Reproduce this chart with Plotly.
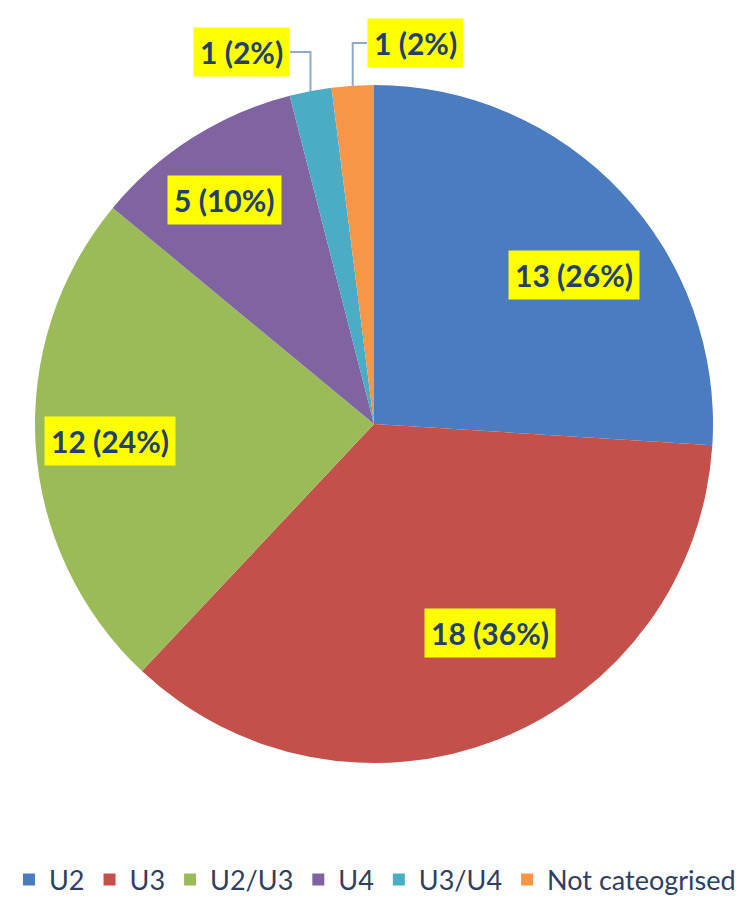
import math
import plotly.graph_objects as go

categories = ["U2", "U3", "U2/U3", "U4", "U3/U4", "Not cateogrised"]
counts = [13, 18, 12, 5, 1, 1]
colors = ["#4A7CBF", "#C4504C", "#9BBB59", "#8064A2", "#4BACC6", "#F79646"]

W, H = 750, 908
# pie geometry (pixels)
CX, CY, R = 374, 424, 339
FONT = "Lato, Carlito, sans-serif"
TXT = "#22406A"

fig = go.Figure(go.Pie(
    labels=categories, values=counts, sort=False, direction="clockwise",
    rotation=0, marker=dict(colors=colors, line=dict(width=0)),
    textinfo="none", hoverinfo="label+value+percent",
    domain=dict(x=[(CX - R) / W, (CX + R) / W],
                y=[1 - (CY + R) / H, 1 - (CY - R) / H]),
))

total = sum(counts)
# label placement (style): radius fraction + pixel nudge for inside labels
label_r = [0.73, 0.70, 0.78, 0.79, None, None]
label_nudge = [(20, 20), (29, -12), (0, 0), (-6, 2), (0, 0), (0, 0)]
outside = {4: dict(ty=52, side=-1, bx=290), 5: dict(ty=43, side=1, bx=367)}

def to_paper(px, py):
    return px / W, 1 - py / H

annotations = []
shapes = []
cum = 0
for i, v in enumerate(counts):
    mid = (cum + v / 2) / total * 2 * math.pi
    cum += v
    text = f"<b>{v} ({round(v / total * 100)}%)</b>"
    if label_r[i] is not None:
        px = CX + R * label_r[i] * math.sin(mid) + label_nudge[i][0]
        py = CY - R * label_r[i] * math.cos(mid) + label_nudge[i][1]
        x, y = to_paper(px, py)
        annotations.append(dict(x=x, y=y, xref="paper", yref="paper", text=text,
                                xanchor="center", yanchor="middle",
                                showarrow=False, bgcolor="#FFFF00", borderpad=6,
                                font=dict(family=FONT, size=30, color=TXT)))
    else:
        o = outside[i]
        ex = CX + R * math.sin(mid)
        ey = CY - R * math.cos(mid)
        x0, y0 = to_paper(ex, ey)
        x1, y1 = to_paper(ex, o["ty"])
        x2, y2 = to_paper(o["bx"], o["ty"])
        shapes.append(dict(type="path", xref="paper", yref="paper",
                           path=f"M {x0} {y0} L {x1} {y1} L {x2} {y2}",
                           line=dict(color="#8FA9C9", width=2)))
        xa = "right" if o["side"] < 0 else "left"
        annotations.append(dict(x=x2, y=y2, xref="paper", yref="paper", text=text,
                                xanchor=xa, yanchor="middle",
                                showarrow=False, bgcolor="#FFFF00",
                                borderpad=6,
                                font=dict(family=FONT, size=30, color=TXT)))

fig.update_layout(
    width=W, height=H, margin=dict(l=0, r=0, t=0, b=0),
    paper_bgcolor="white", plot_bgcolor="white",
    annotations=annotations, shapes=shapes,
    showlegend=True,
    legend=dict(orientation="h", x=0.5, xanchor="center", y=1 - 880 / H,
                yanchor="middle", font=dict(family=FONT, size=27, color="#2E4060"),
                itemsizing="constant", traceorder="normal"),
)

fig.write_html("out.html")
